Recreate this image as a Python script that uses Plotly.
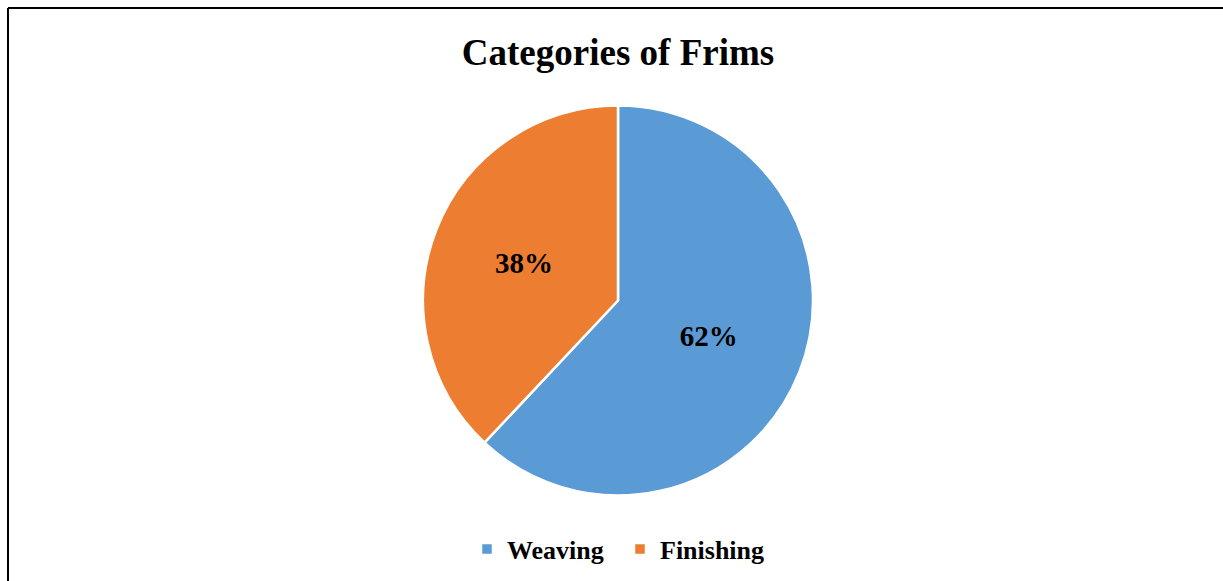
import plotly.graph_objects as go

categories = ["Weaving", "Finishing"]
shares = [62, 38]
colors = ["#5B9BD5", "#ED7D31"]

W, H = 1223, 581
FONT = "Liberation Serif, Times New Roman, serif"

fig = go.Figure()
fig.add_trace(go.Pie(
    labels=categories,
    values=shares,
    sort=False,
    direction="clockwise",
    rotation=0,
    marker=dict(colors=colors, line=dict(color="white", width=2.5)),
    textinfo="percent",
    texttemplate="<b>%{percent:.0%}</b>",
    textposition="inside",
    insidetextorientation="horizontal",
    insidetextfont=dict(family=FONT, size=29, color="black"),
    domain=dict(x=[423 / W, 813 / W], y=[1 - 496 / H, 1 - 105 / H]),
    showlegend=True,
    hoverinfo="label+percent",
))

fig.update_layout(
    width=W, height=H,
    margin=dict(l=0, r=0, t=0, b=0),
    paper_bgcolor="white",
    plot_bgcolor="white",
    title=dict(text="<b>Categories of Frims</b>", x=618 / W, xanchor="center",
               y=1 - 52 / H, yanchor="middle",
               font=dict(family=FONT, size=37, color="black")),
    legend=dict(orientation="h", x=467 / W, xanchor="left", y=1 - 549 / H, yanchor="middle",
                font=dict(family=FONT, size=26, color="black", weight="bold"),
                itemwidth=30, entrywidth=108, entrywidthmode="pixels", tracegroupgap=0),
    shapes=[
        dict(type="line", xref="paper", yref="paper", x0=8 / W, x1=1, y0=1 - 8 / H, y1=1 - 8 / H,
             line=dict(color="black", width=2)),
        dict(type="line", xref="paper", yref="paper", x0=8 / W, x1=8 / W, y0=0, y1=1 - 8 / H,
             line=dict(color="black", width=2)),
    ],
)

fig.write_html("out.html")
